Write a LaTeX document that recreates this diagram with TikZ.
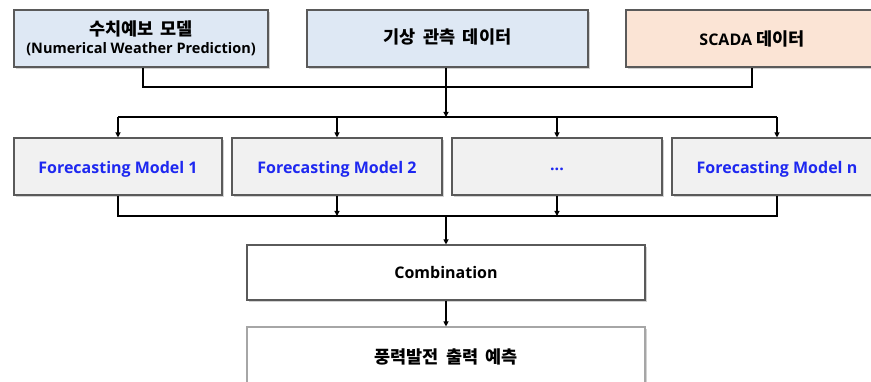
\documentclass[tikz,border=0pt]{standalone}
\usepackage{fontspec}
\setmainfont{Open Sans}
\newfontfamily\kr{Noto Sans CJK KR}
\usetikzlibrary{arrows.meta,shadows}
\definecolor{boxblue}{HTML}{DEE8F4}
\definecolor{boxpeach}{HTML}{FBE4D5}
\definecolor{boxgray}{HTML}{F1F1F1}
\definecolor{edge}{HTML}{5A5A5A}
\definecolor{txtblue}{RGB}{30,40,240}
\newcommand{\ksp}{\hspace{0.42em}}
\newcommand{\lowr}[2]{\raisebox{#1}[\height][\depth]{#2}}
\tikzset{
  box/.style={draw=edge, line width=1.1pt, inner sep=0pt, align=center,
    font=\bfseries\fontsize{16}{18}\selectfont,
    drop shadow={shadow xshift=1.6pt, shadow yshift=-2pt, opacity=0.35}},
  model/.style={box, fill=boxgray, text=txtblue, minimum width=210pt, minimum height=57pt},
  arr/.style={line width=1.1pt, -{Triangle[width=5pt,length=5pt]}},
  ln/.style={line width=1.1pt},
  krtext/.style={font=\kr\bfseries\fontsize{17.5}{20}\selectfont},
}
\begin{document}
\begin{tikzpicture}[x=1pt,y=-1pt]
\clip (0,0) rectangle (871,382);
\fill[white] (0,0) rectangle (871,382);
% top sources
\node[box, fill=boxblue, minimum width=254pt, minimum height=57pt] (nwp) at (141,38.5)
  {{\kr\fontsize{17.5}{18}\selectfont 수치예보\ksp 모델}\\[-0.5pt]{\fontsize{14.5}{16}\selectfont (Numerical Weather Prediction)}};
\node[box, fill=boxblue, minimum width=281pt, minimum height=57pt, krtext] (obs) at (447.5,38.5) {\lowr{1.5pt}{기상\ksp 관측\ksp 데이터}};
\node[box, fill=boxpeach, minimum width=252pt, minimum height=57pt] (scada) at (752,38.5)
  {SCADA {\kr\fontsize{17.5}{18}\selectfont 데이터}};
% models
\node[model, minimum width=208pt] (m1) at (118,166.5) {\lowr{-2.5pt}{Forecasting Model 1}};
\node[model] (m2) at (337,166.5) {\lowr{-2.5pt}{Forecasting Model 2}};
\node[model] (m3) at (557,166.5) {\lowr{-3pt}{...}};
\node[model] (mn) at (777,166.5) {\lowr{-2.5pt}{Forecasting Model n}};
% combination and output
\node[box, fill=white, minimum width=398pt, minimum height=55pt] (comb) at (446,272.5) {Combination};
\node[box, fill=white, draw=gray!70, minimum width=398pt, minimum height=62pt, krtext, text depth=0pt] (out) at (446,358)
  {\raisebox{3pt}{풍력발전\ksp 출력\ksp 예측}};
% connectors
\coordinate (gather) at (446,87);
\coordinate (split) at (446,117);
\coordinate (merge) at (446,216);
\draw[ln] (nwp.south -| 143,0) |- (gather) -| (scada.south);
\draw[arr] (obs.south -| gather) -- (split);
\draw[ln] (m1.north |- split) -- (mn.north |- split);
\foreach \m in {m1,m2,m3,mn} \draw[arr] (\m.north |- split) -- (\m.north);
\draw[ln] (m1.south) |- (merge);
\draw[ln] (mn.south) |- (merge);
\draw[arr] (m2.south) -- (m2.south |- merge);
\draw[arr] (m3.south) -- (m3.south |- merge);
\draw[arr] (merge) -- (comb.north);
\draw[arr] (comb.south) -- (out.north);
\end{tikzpicture}
\end{document}
